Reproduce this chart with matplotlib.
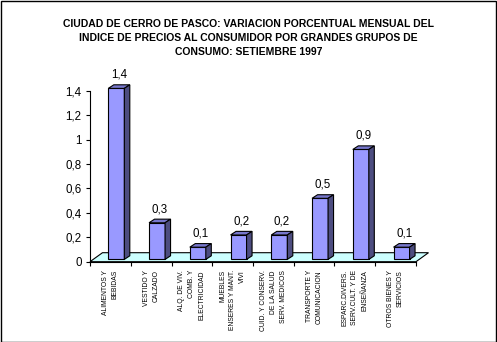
import matplotlib
matplotlib.use("Agg")
import matplotlib.pyplot as plt
from matplotlib.patches import Polygon, Rectangle
from matplotlib.ticker import FixedLocator, FuncFormatter

plt.rcParams['font.family'] = ['Liberation Sans', 'DejaVu Sans']

title = ("CIUDAD DE CERRO DE PASCO: VARIACION PORCENTUAL MENSUAL DEL\n"
         "INDICE DE PRECIOS AL CONSUMIDOR POR GRANDES GRUPOS DE\n"
         "CONSUMO: SETIEMBRE 1997")

categories = [
    "ALIMENTOS Y\nBEBIDAS",
    "VESTIDO Y\nCALZADO",
    "ALQ. DE VIV.\nCOMB. Y\nELECTRICIDAD",
    "MUEBLES\nENSERES Y MANT.\nVIVI",
    "CUID. Y CONSERV.\nDE LA SALUD\nSERV. MEDICOS",
    "TRANSPORTE Y\nCOMUNICACION",
    "ESPARC.DIVERS.\nSERV.CULT. Y DE\nENSEÑANZA",
    "OTROS BIENES Y\nSERVICIOS",
]
values = [1.4, 0.3, 0.1, 0.2, 0.2, 0.5, 0.9, 0.1]
value_labels = ["1,4", "0,3", "0,1", "0,2", "0,2", "0,5", "0,9", "0,1"]
y_ticks = [0, 0.2, 0.4, 0.6, 0.8, 1.0, 1.2, 1.4]

W, H = 497, 342
fig = plt.figure(figsize=(W / 100, H / 100), dpi=100)
fig.patch.set_facecolor("white")

# axes box in pixels
x0, x1 = 90, 416
y0, y1 = 261.7, 90.7
ax = fig.add_axes([x0 / W, (H - y0) / H, (x1 - x0) / W, (y0 - y1) / H])
n = len(values)
ax.set_xlim(0, n)
ax.set_ylim(0, 1.4)
ax.set_facecolor("none")

px_x = (x1 - x0) / n          # pixels per category
px_y = (y0 - y1) / 1.4        # pixels per unit value

def dx(p):
    return p / px_x

def dy(p):
    return p / px_y

# floor
fdx, fdy = dx(12.5), dy(9)
floor = Polygon([(0, 0), (n, 0), (n + fdx, fdy), (fdx, fdy)], closed=True,
                facecolor="#CCFFFF", edgecolor="black", lw=0.8,
                clip_on=False, zorder=1)
ax.add_patch(floor)

# 3D-look bars
bw = dx(16)
bdx, bdy = dx(5.5), dy(3.6)
base = dy(2.3)
front_c, top_c, side_c = "#9999FF", "#7777CC", "#4D4D80"
for i, v in enumerate(values):
    left = i + dx(18.3)
    right = left + bw
    b, t = base, base + v
    ax.add_patch(Polygon([(left, b), (right, b), (right, t), (left, t)],
                         closed=True, facecolor=front_c, edgecolor="black",
                         lw=0.8, clip_on=False, zorder=3))
    ax.add_patch(Polygon([(left, t), (right, t), (right + bdx, t + bdy),
                          (left + bdx, t + bdy)], closed=True,
                         facecolor=top_c, edgecolor="black", lw=0.8,
                         clip_on=False, zorder=3))
    ax.add_patch(Polygon([(right, b), (right + bdx, b + bdy),
                          (right + bdx, t + bdy), (right, t)], closed=True,
                         facecolor=side_c, edgecolor="black", lw=0.8,
                         clip_on=False, zorder=3))
    ax.text((left + right + bdx) / 2, t + bdy + dy(4), value_labels[i],
            ha="center", va="bottom", fontsize=8.3, clip_on=False, zorder=4)

# axes styling
for s in ("top", "right"):
    ax.spines[s].set_visible(False)
ax.spines["left"].set_linewidth(0.8)
ax.spines["bottom"].set_linewidth(0.8)
ax.spines["bottom"].set_zorder(2)

ax.yaxis.set_major_locator(FixedLocator(y_ticks))
ax.yaxis.set_major_formatter(FuncFormatter(
    lambda v, p: ("%g" % round(v, 1)).replace(".", ",")))
ax.tick_params(axis="y", direction="out", length=3, width=0.8, pad=3,
               labelsize=8.3)

ax.set_xticks([i + 0.5 for i in range(n)])
ax.set_xticklabels(categories, rotation=90, fontsize=4.9,
                   ha="center", va="top", multialignment="right",
                   linespacing=1.6)
ax.set_xticks(list(range(n + 1)), minor=True)
ax.tick_params(axis="x", which="major", length=0, pad=6)
ax.tick_params(axis="x", which="minor", direction="out", length=3, width=0.8)

fig.text(0.5, 1 - 19 / H, title, ha="center", va="top", fontsize=7.5,
         fontweight="bold", linespacing=1.5)

fig.patches.append(Rectangle((0.5 / W, 0.5 / H), 1 - 1.5 / W, 1 - 1.5 / H,
                             transform=fig.transFigure, fill=False,
                             edgecolor="black", lw=1.0))

fig.savefig("out.png", dpi=100)
